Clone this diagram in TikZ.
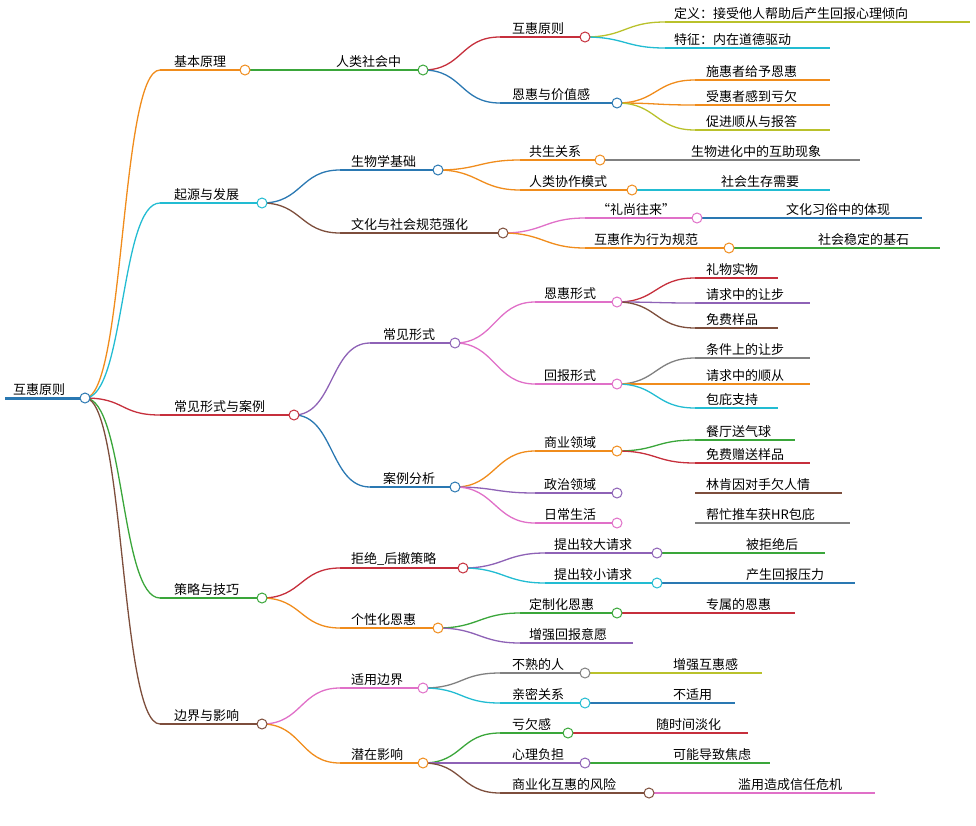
\documentclass[tikz,border=0pt]{standalone}
\usepackage{fontspec}
\newfontfamily\cjk{Noto Sans CJK SC}
\usetikzlibrary{positioning,calc}
\definecolor{cOra}{HTML}{F08C1C}
\definecolor{cCya}{HTML}{22BCD2}
\definecolor{cRed}{HTML}{C62F3C}
\definecolor{cGre}{HTML}{3AA63A}
\definecolor{cBro}{HTML}{7D4E3C}
\definecolor{cBlu}{HTML}{2A78B2}
\definecolor{cPur}{HTML}{8E62B6}
\definecolor{cPin}{HTML}{E070C8}
\definecolor{cGra}{HTML}{808080}
\definecolor{cOli}{HTML}{B9C12B}
\tikzset{lbl/.style={inner sep=1pt, anchor=south west, font=\cjk\fontsize{13}{15}\selectfont},
  knob/.style={circle, fill=white, line width=1pt, inner sep=0pt, minimum size=10pt}}
% name, x1, x2, y, colour, text x, text
\newcommand{\br}[7]{%
  \coordinate (#1-s) at (#2,#4); \coordinate (#1-e) at (#3,#4);
  \draw[#5, line width=1.3pt] (#1-s) -- (#1-e);
  \node[lbl] (#1) at (#6,#4-1) {#7};}
\newcommand{\lk}[3]{\draw[#3, line width=1.3pt] (#1-e) .. controls +(40,0) and +(-40,0) .. (#2-s);}
\newcommand{\kn}[2]{\node[knob, draw=#2] at (#1-e) {};}
\begin{document}
\begin{tikzpicture}[x=1pt, y=-1pt]
\useasboundingbox (0,0) rectangle (976,825);
% root
\coordinate (r-s) at (5,398); \coordinate (r-e) at (85,398);
\draw[cBlu, line width=3pt] (r-s) -- (r-e);
\node[lbl] (r) at (12,397) {互惠原则};
% level 1
\br{a}{160}{245}{70}{cOra}{173}{基本原理}
\br{b}{160}{262}{203}{cCya}{173}{起源与发展}
\br{c}{160}{294}{415}{cRed}{173}{常见形式与案例}
\br{d}{160}{262}{598}{cGre}{173}{策略与技巧}
\br{e}{160}{262}{724}{cBro}{173}{边界与影响}
% level 2
\br{a1}{245}{423}{70}{cGre}{335}{人类社会中}
\br{b1}{340}{438}{170}{cBlu}{350}{生物学基础}
\br{b2}{340}{503}{233}{cBro}{350}{文化与社会规范强化}
\br{c1}{370}{455}{343}{cPur}{382}{常见形式}
\br{c2}{370}{455}{487}{cBlu}{382}{案例分析}
\br{d1}{340}{463}{568}{cRed}{350}{拒绝\_后撤策略}
\br{d2}{340}{438}{628}{cOra}{350}{个性化恩惠}
\br{e1}{340}{423}{688}{cPin}{350}{适用边界}
\br{e2}{340}{423}{763}{cOra}{350}{潜在影响}
% level 3
\br{a11}{500}{585}{37}{cRed}{511}{互惠原则}
\br{a12}{500}{617}{103}{cBlu}{511}{恩惠与价值感}
\br{b11}{520}{600}{160}{cOra}{528}{共生关系}
\br{b12}{520}{632}{190}{cOra}{528}{人类协作模式}
\br{b21}{585}{697}{218}{cPin}{596}{“礼尚往来”}
\br{b22}{585}{729}{248}{cOra}{593}{互惠作为行为规范}
\br{c11}{535}{617}{302}{cPin}{543}{恩惠形式}
\br{c12}{535}{617}{384}{cPin}{543}{回报形式}
\br{c21}{535}{617}{451}{cOra}{543}{商业领域}
\br{c22}{535}{617}{493}{cPur}{543}{政治领域}
\br{c23}{535}{617}{523}{cPin}{543}{日常生活}
\br{d11}{545}{657}{553}{cPur}{553}{提出较大请求}
\br{d12}{545}{657}{583}{cCya}{553}{提出较小请求}
\br{d21}{520}{617}{613}{cGre}{528}{定制化恩惠}
\br{d22}{520}{633}{643}{cPur}{528}{增强回报意愿}
\br{e11}{500}{585}{673}{cGra}{511}{不熟的人}
\br{e12}{500}{585}{703}{cCya}{511}{亲密关系}
\br{e21}{500}{568}{733}{cGre}{511}{亏欠感}
\br{e22}{500}{585}{763}{cPur}{511}{心理负担}
\br{e23}{500}{649}{793}{cBro}{511}{商业化互惠的风险}
% level 4
\br{a111}{665}{970}{22}{cOli}{673}{定义：接受他人帮助后产生回报心理倾向}
\br{a112}{665}{830}{48}{cCya}{673}{特征：内在道德驱动}
\br{a121}{695}{830}{80}{cOra}{705}{施惠者给予恩惠}
\br{a122}{695}{830}{105}{cOra}{705}{受惠者感到亏欠}
\br{a123}{695}{830}{130}{cOli}{705}{促进顺从与报答}
\br{b111}{600}{860}{160}{cGra}{690}{生物进化中的互助现象}
\br{b121}{632}{830}{190}{cCya}{720}{社会生存需要}
\br{b211}{697}{922}{218}{cBlu}{785}{文化习俗中的体现}
\br{b221}{729}{940}{248}{cGre}{817}{社会稳定的基石}
\br{c111}{695}{778}{278}{cRed}{705}{礼物实物}
\br{c112}{695}{810}{303}{cPur}{705}{请求中的让步}
\br{c113}{695}{778}{328}{cBro}{705}{免费样品}
\br{c121}{695}{810}{358}{cGra}{705}{条件上的让步}
\br{c122}{695}{810}{384}{cOra}{705}{请求中的顺从}
\br{c123}{695}{778}{408}{cCya}{705}{包庇支持}
\br{c211}{695}{795}{440}{cGre}{705}{餐厅送气球}
\br{c212}{695}{810}{463}{cRed}{705}{免费赠送样品}
\br{c221}{695}{842}{493}{cBro}{705}{林肯因对手欠人情}
\br{c231}{695}{850}{523}{cGra}{705}{帮忙推车获HR包庇}
\br{d111}{657}{825}{553}{cGre}{745}{被拒绝后}
\br{d121}{657}{855}{583}{cBlu}{745}{产生回报压力}
\br{d211}{617}{795}{613}{cRed}{705}{专属的恩惠}
\br{e111}{585}{762}{673}{cOli}{672}{增强互惠感}
\br{e121}{585}{735}{703}{cBlu}{672}{不适用}
\br{e211}{568}{748}{733}{cRed}{655}{随时间淡化}
\br{e221}{585}{770}{763}{cGre}{672}{可能导致焦虑}
\br{e231}{649}{875}{793}{cPin}{737}{滥用造成信任危机}
% links
\lk{r}{a}{cOra} \lk{r}{b}{cCya} \lk{r}{c}{cRed} \lk{r}{d}{cGre} \lk{r}{e}{cBro}
\lk{b}{b1}{cBlu} \lk{b}{b2}{cBro}
\lk{c}{c1}{cPur} \lk{c}{c2}{cBlu}
\lk{d}{d1}{cRed} \lk{d}{d2}{cOra}
\lk{e}{e1}{cPin} \lk{e}{e2}{cOra}
\lk{a1}{a11}{cRed} \lk{a1}{a12}{cBlu}
\lk{b1}{b11}{cOra} \lk{b1}{b12}{cOra}
\lk{b2}{b21}{cPin} \lk{b2}{b22}{cOra}
\lk{c1}{c11}{cPin} \lk{c1}{c12}{cPin}
\lk{c2}{c21}{cOra} \lk{c2}{c22}{cPur} \lk{c2}{c23}{cPin}
\lk{d1}{d11}{cPur} \lk{d1}{d12}{cCya}
\lk{d2}{d21}{cGre} \lk{d2}{d22}{cPur}
\lk{e1}{e11}{cGra} \lk{e1}{e12}{cCya}
\lk{e2}{e21}{cGre} \lk{e2}{e22}{cPur} \lk{e2}{e23}{cBro}
\lk{a11}{a111}{cOli} \lk{a11}{a112}{cCya}
\lk{a12}{a121}{cOra} \lk{a12}{a122}{cOra} \lk{a12}{a123}{cOli}
\lk{c11}{c111}{cRed} \lk{c11}{c112}{cPur} \lk{c11}{c113}{cBro}
\lk{c12}{c121}{cGra} \lk{c12}{c122}{cOra} \lk{c12}{c123}{cCya}
\lk{c21}{c211}{cGre} \lk{c21}{c212}{cRed}
% knobs
\kn{r}{cBlu} \kn{a}{cOra} \kn{b}{cCya} \kn{c}{cRed} \kn{d}{cGre} \kn{e}{cBro}
\kn{a1}{cGre} \kn{b1}{cBlu} \kn{b2}{cBro} \kn{c1}{cPur} \kn{c2}{cBlu}
\kn{d1}{cRed} \kn{d2}{cOra} \kn{e1}{cPin} \kn{e2}{cOra}
\kn{a11}{cRed} \kn{a12}{cBlu} \kn{b11}{cOra} \kn{b12}{cOra} \kn{b21}{cPin} \kn{b22}{cOra}
\kn{c11}{cPin} \kn{c12}{cPin} \kn{c21}{cOra} \kn{c22}{cPur} \kn{c23}{cPin}
\kn{d11}{cPur} \kn{d12}{cCya} \kn{d21}{cGre}
\kn{e11}{cGra} \kn{e12}{cCya} \kn{e21}{cGre} \kn{e22}{cPur} \kn{e23}{cBro}
\end{tikzpicture}
\end{document}
